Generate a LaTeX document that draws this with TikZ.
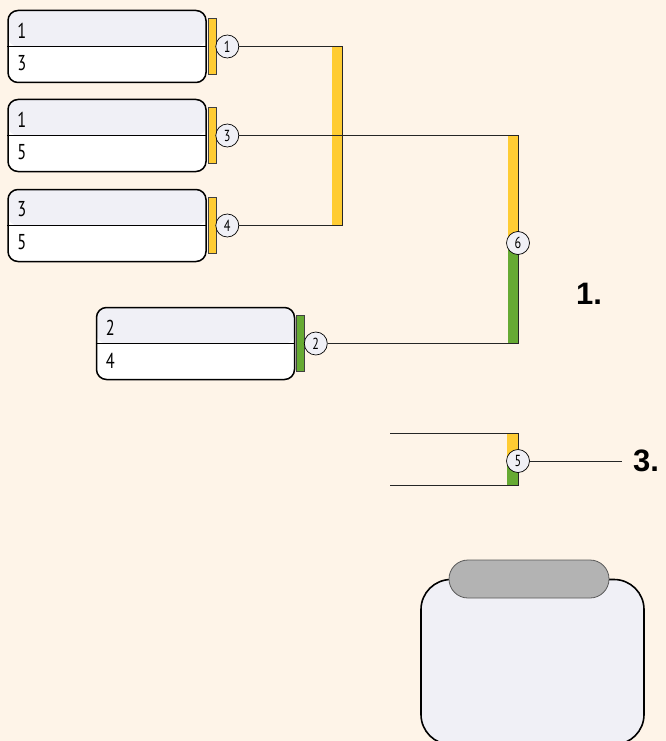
\documentclass[tikz,border=0pt]{standalone}
\usepackage{fontspec}
\setsansfont{Liberation Sans}
\newfontfamily\narrowfont[FakeStretch=0.76]{PT Sans}
\usetikzlibrary{positioning, calc}
\definecolor{paper}{HTML}{FEF4E8}
\definecolor{lav}{HTML}{F0F0F6}
\definecolor{gold}{HTML}{FFCC33}
\definecolor{leaf}{HTML}{66AA33}
\definecolor{pillgray}{HTML}{B3B3B3}

\begin{document}
\begin{tikzpicture}[x=1pt, y=-1pt,
  match/.style={draw, line width=1.5pt, rounded corners=10pt, minimum width=198pt, minimum height=72pt, inner sep=0pt, fill=white,
    path picture={\fill[lav] (path picture bounding box.north west) rectangle (path picture bounding box.east);}},
  seed/.style={font=\narrowfont\fontsize{21.5}{21.5}\selectfont, anchor=west, inner sep=0pt},
  ybar/.style={fill=gold, draw=black!75, line width=0.7pt, minimum width=8pt, minimum height=56pt, inner sep=0pt},
  gbar/.style={ybar, fill=leaf},
  game/.style={circle, draw, fill=lav, line width=0.7pt, minimum size=23pt, inner sep=0pt, font=\narrowfont\fontsize{16}{16}\selectfont},
  wire/.style={line width=0.8pt, black!85},
  rank/.style={font=\sffamily\bfseries\fontsize{31}{31}\selectfont, inner sep=0pt}]
\fill[paper] (0,0) rectangle (666,741);
\useasboundingbox (0,0) rectangle (666,741);

% matches
\node[match] (m1) at (107,46.5) {};
\node[match] (m2) at (107,135.5) {};
\node[match] (m3) at (107,225.5) {};
\node[match] (m4) at (195.5,343.5) {};
\foreach \m/\a/\b in {m1/1/3, m2/1/5, m3/3/5, m4/2/4} {
  \draw[line width=1.5pt] (\m.west) -- (\m.east);
  \node[seed] (\m-top) at ([xshift=10pt, yshift=16pt]\m.west) {\a};
  \node[seed] (\m-bot) at ([xshift=10pt, yshift=-17pt]\m.west) {\b};
}
\node[ybar, right=1pt of m1] (b1) {};
\node[ybar, right=1pt of m2] (b2) {};
\node[ybar, right=1pt of m3] (b3) {};
\node[gbar, right=1pt of m4] (b4) {};
\node[game, right=-1pt of b1] (g1) {1};
\node[game, right=-1pt of b2] (g3) {3};
\node[game, right=-1pt of b3] (g4) {4};
\node[game, right=-1pt of b4] (g2) {2};

% second round
\coordinate (r1) at (342,0);
\coordinate (w6) at (518,243);
\fill[gold] ($(g1 -| r1)+(-10,0)$) rectangle (g4 -| r1);
\fill[gold] ($(g3 -| w6)+(-10,0)$) rectangle (w6);
\fill[leaf] ($(g2 -| w6)+(-10,0)$) rectangle (w6);
\draw[wire] (g1.east) -- (g1 -| r1) -- (g4 -| r1) -- (g4.east);
\draw[wire] (g3.east) -- (g3 -| w6) -- (g2 -| w6) -- (g2.east);
\node[game] (g6) at (w6) {6};
\node[rank] (t1) at (589,294) {1.};

% third place
\coordinate (f1) at (390,433);
\coordinate (f2) at (390,485);
\coordinate (w5) at (518,459);
\fill[gold] ($(f1 -| w5)+(-11,0)$) rectangle (w5);
\fill[leaf] ($(f2 -| w5)+(-11,0)$) rectangle (w5);
\draw[wire] (f1) -- (f1 -| w5) -- (f2 -| w5) -- (f2);
\node[game] (g5) at (518,461) {5};
\node[rank, anchor=west, inner xsep=11pt] (t3) at (622,461) {3.};
\draw[wire] (g5.east) -- (t3.west);

% final
\node[draw, line width=1.6pt, fill=lav, rounded corners=30pt, minimum width=223pt, minimum height=165pt] (champ) at (532.5,662) {};
\node[draw=black!65, line width=0.8pt, fill=pillgray, rounded corners=19pt, minimum width=160pt, minimum height=38pt] (crown) at (529,579) {};
\end{tikzpicture}
\end{document}
